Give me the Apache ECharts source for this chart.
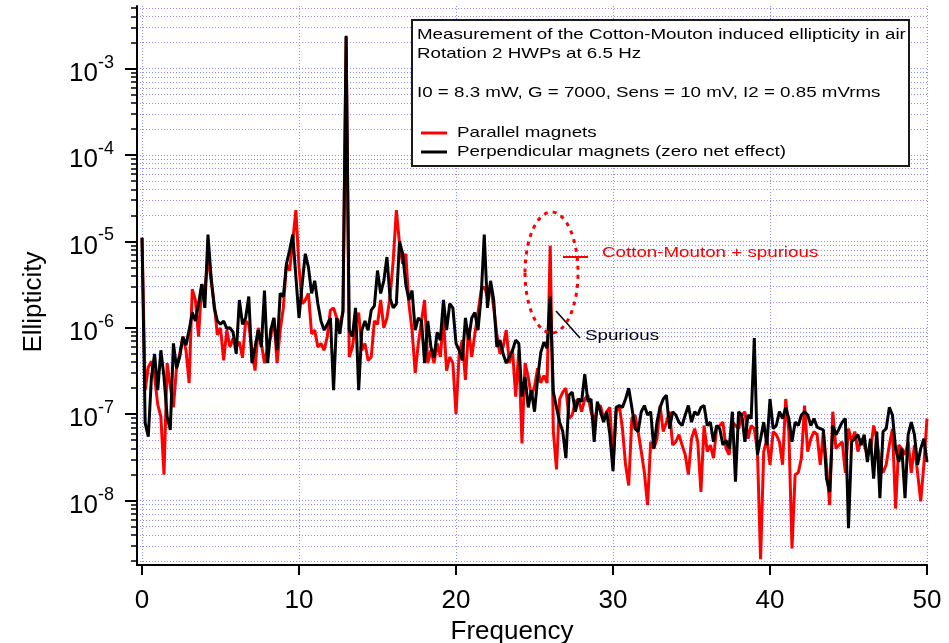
<!DOCTYPE html>
<html>
<head>
<meta charset="utf-8">
<title>Cotton-Mouton ellipticity</title>
<script src="https://cdn.jsdelivr.net/npm/echarts@6/dist/echarts.min.js"></script>
<style>
  html, body { margin: 0; padding: 0; background: #fff; }
  #chart { width: 949px; height: 643px; }
</style>
</head>
<body>
<div id="chart"></div>
<script>
// spectra, one value every 0.2 Hz from 0 to 50 Hz
const freqStart = 0
const freqStep = 0.2

const parallelMagnets = [
  1.1e-5, 1.9e-7, 3.5e-7, 4.1e-7, 2.7e-7, 1.3e-7, 9.4e-8, 2.0e-8, 3.9e-7, 2.1e-7,
  1.2e-7, 3.5e-7, 5.0e-7, 7.9e-7, 5.5e-7, 2.3e-7, 2.8e-6, 2.1e-6, 7.9e-7, 3.2e-6,
  2.7e-6, 6.6e-6, 3.5e-6, 1.9e-6, 8.3e-7, 1.0e-6, 4.2e-7, 9.4e-7, 6.0e-7, 7.5e-7,
  6.0e-7, 6.9e-7, 4.5e-7, 1.2e-6, 1.1e-6, 5.5e-7, 3.2e-7, 1.0e-6, 6.6e-7, 3.9e-7,
  6.0e-7, 7.9e-7, 1.3e-6, 3.9e-7, 9.4e-7, 1.7e-6, 5.5e-6, 4.6e-6, 1.0e-5, 2.3e-5,
  5.0e-6, 1.9e-6, 2.1e-6, 2.5e-6, 8.5e-7, 9.4e-7, 6.0e-7, 6.6e-7, 5.5e-7, 7.9e-7,
  1.6e-6, 1.7e-6, 1.3e-6, 1.1e-6, 1.5e-6, 2.3e-3, 4.6e-7, 6.0e-7, 1.1e-6, 1.5e-6,
  5.5e-7, 6.6e-7, 4.2e-7, 4.6e-7, 1.2e-6, 1.1e-6, 2.1e-6, 1.0e-6, 1.3e-6, 2.3e-6,
  6.0e-6, 2.3e-5, 9.4e-6, 5.5e-6, 7.2e-6, 1.9e-6, 9.4e-7, 3.0e-7, 6.6e-7, 1.2e-6,
  2.1e-6, 3.9e-7, 5.5e-7, 3.9e-7, 6.6e-7, 4.6e-7, 1.3e-6, 3.2e-7, 4.6e-7, 3.9e-7,
  1.0e-7, 5.0e-7, 7.2e-7, 2.5e-7, 1.0e-6, 4.6e-7, 8.5e-7, 1.5e-6, 2.7e-6, 3.0e-6,
  2.3e-6, 3.2e-6, 1.7e-6, 8.5e-7, 5.0e-7, 6.0e-7, 9.4e-7, 3.9e-7, 5.5e-7, 1.6e-7,
  5.5e-7, 4.6e-8, 3.9e-7, 2.7e-7, 1.6e-7, 2.1e-7, 3.4e-7, 2.3e-7, 2.8e-7, 2.3e-7,
  8.9e-6, 6.3e-8, 2.3e-8, 1.5e-7, 1.8e-7, 2.0e-7, 8.9e-8, 9.8e-8, 1.4e-7, 1.5e-7,
  1.07e-7, 1.5e-7, 1.66e-7, 1.07e-7, 8.1e-8, 1.2e-7, 1.26e-7, 8.9e-8, 1.07e-7, 1.2e-7,
  2.6e-8, 1.07e-7, 1.26e-7, 6.8e-8, 2.6e-8, 1.5e-8, 8.9e-8, 9.8e-8, 6.3e-8, 3.7e-8,
  2.1e-8, 8.9e-9, 4.8e-8, 4.0e-8, 5.2e-8, 1.26e-7, 6.3e-8, 8.1e-8, 1.07e-7, 4.4e-8,
  4.8e-8, 5.8e-8, 4.4e-8, 3.4e-8, 2.0e-8, 5.2e-8, 6.8e-8, 4.8e-8, 1.26e-8, 7.4e-8,
  3.7e-8, 4.4e-8, 3.1e-8, 6.8e-8, 7.4e-8, 8.1e-8, 4.0e-8, 3.4e-8, 8.1e-8, 7.4e-8,
  6.8e-8, 9.8e-8, 1.07e-7, 5.2e-8, 7.4e-8, 6.8e-8, 3.7e-8, 2.1e-9, 3.7e-8, 5.2e-8,
  2.6e-8, 6.3e-8, 5.8e-8, 4.8e-8, 2.6e-8, 1.5e-7, 6.3e-8, 2.8e-9, 2.0e-8, 2.1e-8,
  3.1e-8, 1.26e-7, 3.7e-8, 5.2e-8, 6.3e-8, 5.8e-8, 2.6e-8, 6.3e-8, 2.6e-8, 8.9e-9,
  1.07e-7, 4.0e-8, 4.4e-8, 4.8e-8, 2.1e-8, 6.8e-8, 4.8e-8, 6.3e-8, 3.7e-8, 5.2e-8,
  4.4e-8, 3.4e-8, 3.7e-8, 7.4e-8, 5.2e-8, 2.8e-8, 2.1e-8, 2.6e-8, 4.4e-8, 6.8e-8,
  8.1e-9, 4.4e-8, 4.0e-8, 3.4e-8, 4.8e-8, 2.1e-8, 4.4e-8, 2.1e-8, 9.8e-9, 2.6e-8,
  8.9e-8
]

const perpendicularMagnets = [
  1.1e-5, 7.9e-8, 5.5e-8, 2.7e-7, 5.0e-7, 1.9e-7, 5.5e-7, 2.7e-7, 9.4e-8, 6.6e-8,
  6.6e-7, 3.4e-7, 4.6e-7, 7.9e-7, 6.3e-7, 9.4e-7, 1.5e-6, 1.2e-6, 1.9e-6, 3.2e-6,
  1.7e-6, 1.2e-5, 3.9e-6, 1.7e-6, 1.2e-6, 1.1e-6, 1.2e-6, 9.8e-7, 1.0e-6, 8.9e-7,
  5.0e-7, 2.1e-6, 1.1e-6, 1.3e-6, 2.3e-6, 3.9e-7, 6.0e-7, 9.4e-7, 6.0e-7, 2.7e-6,
  3.9e-7, 9.4e-7, 1.3e-6, 5.5e-7, 2.5e-6, 2.3e-6, 5.5e-6, 7.9e-6, 1.2e-5, 3.9e-6,
  1.3e-6, 3.2e-6, 7.2e-6, 5.0e-6, 2.5e-6, 3.5e-6, 1.9e-6, 1.2e-6, 9.4e-7, 1.1e-6,
  1.3e-6, 1.9e-7, 1.3e-6, 8.5e-7, 1.6e-6, 2.4e-3, 9.4e-7, 7.9e-7, 1.7e-6, 1.9e-7,
  9.4e-7, 1.2e-6, 9.4e-7, 1.6e-6, 1.8e-6, 4.6e-6, 2.5e-6, 3.5e-6, 6.6e-6, 2.2e-6,
  1.7e-6, 1.9e-6, 1.0e-5, 7.2e-6, 3.2e-6, 2.1e-6, 2.7e-6, 9.4e-7, 1.3e-6, 1.2e-6,
  3.9e-7, 1.2e-6, 6.0e-7, 4.5e-7, 8.9e-7, 7.2e-7, 2.1e-6, 9.4e-7, 1.9e-6, 1.7e-6,
  6.6e-7, 5.5e-7, 4.2e-7, 1.3e-6, 7.2e-7, 1.3e-6, 1.5e-6, 9.4e-7, 2.3e-6, 1.2e-5,
  1.7e-6, 3.5e-6, 2.1e-6, 6.0e-7, 7.2e-7, 5.0e-7, 3.9e-7, 4.6e-7, 5.5e-7, 7.2e-7,
  6.6e-7, 1.6e-7, 2.7e-7, 1.2e-7, 1.9e-7, 1.07e-7, 2.6e-7, 5.2e-7, 6.8e-7, 5.8e-7,
  2.3e-6, 1.8e-7, 1.2e-7, 8.1e-8, 6.3e-8, 3.1e-8, 1.66e-7, 1.8e-7, 1.07e-7, 1.5e-7,
  1.4e-7, 2.9e-7, 1.4e-7, 1.5e-7, 4.8e-8, 1.4e-7, 1.07e-7, 8.1e-8, 1.07e-7, 5.8e-8,
  2.2e-8, 1.2e-7, 1.26e-7, 1.2e-7, 1.5e-7, 2.0e-7, 1.2e-7, 6.8e-8, 6.3e-8, 1.07e-7,
  1.26e-7, 9.8e-8, 1.07e-7, 4.0e-8, 8.1e-8, 1.2e-7, 1.5e-7, 1.66e-7, 6.8e-8, 1.07e-7,
  9.8e-8, 8.1e-8, 7.4e-8, 9.8e-8, 1.26e-7, 8.1e-8, 1.07e-7, 9.8e-8, 1.2e-7, 1.26e-7,
  7.4e-8, 8.1e-8, 4.8e-8, 7.4e-8, 6.8e-8, 4.4e-8, 5.0e-8, 4.0e-8, 1.07e-7, 1.66e-8,
  1.07e-7, 9.8e-8, 4.8e-8, 9.8e-8, 8.9e-8, 7.6e-7, 3.4e-8, 5.2e-8, 8.1e-8, 4.4e-8,
  1.5e-7, 6.8e-8, 7.4e-8, 1.07e-7, 8.9e-8, 1.2e-7, 8.9e-8, 4.8e-8, 8.1e-8, 7.4e-8,
  9.8e-8, 1.07e-7, 9.8e-8, 7.4e-8, 8.9e-8, 7.1e-8, 6.8e-8, 6.6e-8, 1.8e-8, 1.26e-8,
  7.4e-8, 5.8e-8, 6.8e-8, 8.1e-8, 8.9e-8, 4.8e-9, 4.8e-8, 5.2e-8, 5.8e-8, 4.4e-8,
  5.8e-8, 2.8e-8, 5.2e-8, 1.8e-8, 6.3e-8, 1.07e-8, 6.3e-8, 6.8e-8, 1.2e-7, 9.8e-8,
  4.0e-8, 2.8e-8, 4.0e-8, 1.07e-8, 5.8e-8, 8.1e-8, 5.8e-8, 2.6e-8, 4.0e-8, 5.2e-8,
  2.8e-8
]

const xTicks = [0, 10, 20, 30, 40, 50]
const yMajorTicks = [1e-8, 1e-7, 1e-6, 1e-5, 1e-4, 1e-3]
const yMinorTicks = [
  2e-9, 3e-9, 4e-9, 5e-9, 6e-9, 7e-9, 8e-9, 9e-9,
  2e-8, 3e-8, 4e-8, 5e-8, 6e-8, 7e-8, 8e-8, 9e-8,
  2e-7, 3e-7, 4e-7, 5e-7, 6e-7, 7e-7, 8e-7, 9e-7,
  2e-6, 3e-6, 4e-6, 5e-6, 6e-6, 7e-6, 8e-6, 9e-6,
  2e-5, 3e-5, 4e-5, 5e-5, 6e-5, 7e-5, 8e-5, 9e-5,
  2e-4, 3e-4, 4e-4, 5e-4, 6e-4, 7e-4, 8e-4, 9e-4,
  2e-3, 3e-3, 4e-3, 5e-3
]

const FONT = '"Liberation Sans", Arial, Helvetica, sans-serif'
const GRID_LINE = { type: [1, 2], color: '#8c8cff', width: 1 }
const Y_MIN = 1.8e-9
const Y_MAX = 5.3e-3

const toPoints = values => values.map((v, i) => [freqStart + i * freqStep, v])

const chart = echarts.init(document.getElementById('chart'))

// box text is drawn a bit wide, like in the original
const boxText = (text, x, y, color) => ({
  type: 'text',
  x: x,
  y: y,
  scaleX: 1.25,
  z: 20,
  style: {
    text: text,
    fontSize: 15,
    fontFamily: FONT,
    fill: color || '#000',
    verticalAlign: 'middle'
  }
})

chart.setOption({
  backgroundColor: '#fff',
  animation: false,
  grid: {
    left: 137,
    right: 22,
    top: 6,
    bottom: 78,
    containLabel: false,
    outerBoundsMode: 'none'
  },
  xAxis: {
    type: 'value',
    min: -0.32,
    max: 50,
    axisLine: { onZero: false, lineStyle: { color: '#000', width: 2 } },
    axisTick: { customValues: xTicks, length: 10, lineStyle: { color: '#000', width: 2 } },
    axisLabel: { customValues: xTicks, fontSize: 26, fontFamily: FONT, color: '#000', margin: 23 },
    splitLine: { show: true, lineStyle: GRID_LINE },
    name: 'Frequency',
    nameLocation: 'middle',
    nameGap: 52,
    nameTextStyle: { fontSize: 26, fontFamily: FONT, color: '#000', padding: [0, 40, 0, 0] }
  },
  yAxis: [
    {
      type: 'log',
      logBase: 10,
      min: Y_MIN,
      max: Y_MAX,
      axisLine: { show: true, onZero: false, lineStyle: { color: '#000', width: 2 } },
      axisTick: { customValues: yMajorTicks, length: 12, lineStyle: { color: '#000', width: 2 } },
      axisLabel: {
        customValues: yMajorTicks,
        margin: 23,
        color: '#000',
        fontFamily: FONT,
        formatter: v => '{b|10}{e|' + Math.round(Math.log10(v)) + '}',
        rich: {
          b: { fontSize: 26, fontFamily: FONT, color: '#000', padding: [10, 0, 0, 0] },
          e: { fontSize: 18, fontFamily: FONT, color: '#000', padding: [3, 0, 0, 0], verticalAlign: 'top' }
        }
      },
      splitLine: { show: true, lineStyle: GRID_LINE },
      name: 'Ellipticity',
      nameLocation: 'middle',
      nameGap: 90,
      nameTextStyle: { fontSize: 26, fontFamily: FONT, color: '#000', padding: [0, 33, 0, 0] }
    },
    {
      // minor decade ticks and their grid lines
      type: 'log',
      logBase: 10,
      min: Y_MIN,
      max: Y_MAX,
      position: 'left',
      axisLine: { show: false, onZero: false },
      axisTick: { customValues: yMinorTicks, length: 6, lineStyle: { color: '#000', width: 1.5 } },
      axisLabel: { show: false },
      splitLine: { show: true, lineStyle: GRID_LINE }
    }
  ],
  series: [
    {
      name: 'Parallel magnets',
      type: 'line',
      data: toPoints(parallelMagnets),
      showSymbol: false,
      symbol: 'none',
      lineStyle: { color: '#ff0000', width: 3 },
      itemStyle: { color: '#ff0000' },
      z: 2
    },
    {
      name: 'Perpendicular magnets (zero net effect)',
      type: 'line',
      data: toPoints(perpendicularMagnets),
      showSymbol: false,
      symbol: 'none',
      lineStyle: { color: '#000', width: 3 },
      itemStyle: { color: '#000' },
      z: 3
    }
  ],
  graphic: [
    {
      type: 'rect',
      z: 10,
      shape: { x: 412, y: 20, width: 497, height: 146 },
      style: { fill: '#fff', stroke: '#1a1a1a', lineWidth: 2 }
    },
    boxText('Measurement of the Cotton-Mouton induced ellipticity in air', 417, 35),
    boxText('Rotation 2 HWPs at 6.5 Hz', 417, 54),
    boxText('I0 = 8.3 mW, G = 7000, Sens = 10 mV, I2 = 0.85 mVrms', 417, 93),
    {
      type: 'line', z: 20,
      shape: { x1: 421, y1: 133, x2: 447, y2: 133 },
      style: { stroke: '#ff0000', lineWidth: 3 }
    },
    boxText('Parallel magnets', 457, 133),
    {
      type: 'line', z: 20,
      shape: { x1: 421, y1: 152, x2: 447, y2: 152 },
      style: { stroke: '#000', lineWidth: 3 }
    },
    boxText('Perpendicular magnets (zero net effect)', 457, 152),
    // annotation around the 26 Hz line
    {
      type: 'ellipse', z: 20,
      shape: { cx: 551.5, cy: 272.5, rx: 26.5, ry: 60.5 },
      style: { fill: 'none', stroke: '#ff0000', lineWidth: 3, lineDash: [4, 5] }
    },
    {
      type: 'line', z: 20,
      shape: { x1: 563, y1: 257, x2: 588, y2: 257 },
      style: { stroke: '#ff0000', lineWidth: 2 }
    },
    boxText('Cotton-Mouton + spurious', 602, 253, '#ff0000'),
    {
      type: 'line', z: 20,
      shape: { x1: 556, y1: 311, x2: 580, y2: 338 },
      style: { stroke: '#000', lineWidth: 1.5 }
    },
    boxText('Spurious', 585, 336)
  ]
})
</script>
</body>
</html>
